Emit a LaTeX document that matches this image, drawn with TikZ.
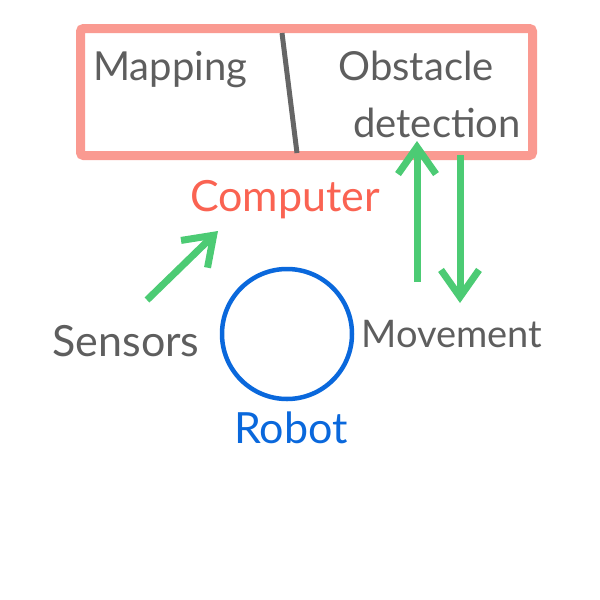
\documentclass[tikz,border=0pt]{standalone}
\usepackage{fontspec}
\setmainfont{Lato}
\usetikzlibrary{arrows.meta}
\definecolor{boxred}{HTML}{FA9A91}
\definecolor{txtred}{HTML}{FA6352}
\definecolor{txtgray}{HTML}{5E5E5E}
\definecolor{robblue}{HTML}{0A68DC}
\definecolor{arrgreen}{HTML}{4CCB74}
\tikzset{
  lbl/.style={text=txtgray, font=\fontsize{40}{42}\selectfont, inner sep=0pt},
  big/.style={font=\fontsize{43}{45}\selectfont},
  small/.style={font=\fontsize{38}{40}\selectfont},
  flow/.style={draw=arrgreen, line width=7pt, -{Straight Barb[length=27pt,width=38pt,line width=7pt]}},
}
\begin{document}
\begin{tikzpicture}[x=1pt,y=-1pt]
\useasboundingbox (0,0) rectangle (600,600);
\node[draw=boxred, line width=9pt, rounded corners=3pt, minimum width=452pt, minimum height=127pt, inner sep=0pt] (comp) at (306.5,92) {};
\coordinate (d1) at (282,33);
\coordinate (d2) at (297,153);
\draw[txtgray!95, line width=5pt] (d1) -- (d2);
\node[lbl, anchor=base west] (map) at (93,80) {Mapping};
\node[lbl, anchor=base] (obs) at (416,80) {Obstacle};
\node[lbl, anchor=base] (det) at (437,137) {detection};
\node[lbl, big, text=txtred, anchor=base] (cpu) at (285,211) {Computer};
\node[lbl, big, anchor=base] (sen) at (126,356) {Sensors};
\node[lbl, small, anchor=base] (mov) at (452,347) {Movement};
\node[lbl, big, text=robblue, anchor=base] (rob) at (291,443) {Robot};
\node[draw=robblue, line width=4.5pt, circle, minimum size=130pt, inner sep=0pt] (robot) at (287,334) {};
\coordinate (s1) at (147,300);
\coordinate (s2) at (218,231);
\draw[flow] (s1) -- (s2);
\coordinate (u1) at (417,282);
\coordinate (u2) at (417,141);
\draw[flow] (u1) -- (u2);
\coordinate (w1) at (460,155);
\coordinate (w2) at (460,303);
\draw[flow] (w1) -- (w2);
\end{tikzpicture}
\end{document}
